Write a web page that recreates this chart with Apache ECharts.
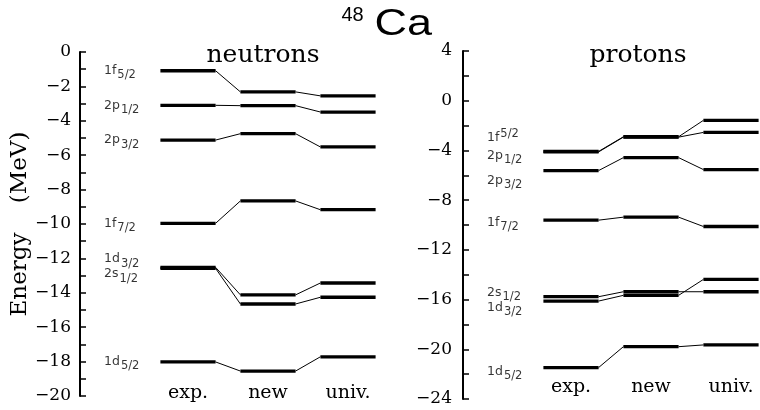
<!DOCTYPE html>
<html><head><meta charset="utf-8">
<script src="https://cdn.jsdelivr.net/npm/echarts@6/dist/echarts.min.js"></script>
<style>html,body{margin:0;padding:0;background:#fff}#c{width:760px;height:410px}</style>
</head><body><div id="c"></div>
<script>
// ---- data (MeV) ----
const methods = ['exp.', 'new', 'univ.'];

const neutronLevels  = ['1f_5/2', '2p_1/2', '2p_3/2', '1f_7/2', '1d_3/2', '2s_1/2', '1d_5/2'];
const neutronExp     = [-1.09, -3.10, -5.12, -9.96, -12.52, -12.58, -18.02];
const neutronNew     = [-2.32, -3.12, -4.75, -8.66, -14.12, -14.65, -18.55];
const neutronUniv    = [-2.55, -3.49, -5.52, -9.17, -13.43, -14.26, -17.72];
const neutronLabelAt = [-1.09, -3.10, -5.12, -9.96, -12.04, -12.91, -18.02];

const protonLevels   = ['1f^5/2', '2p_1/2', '2p_3/2', '1f_7/2', '2s_1/2', '1d_3/2', '1d_5/2'];
const protonExp      = [-4.08, -4.12, -5.62, -9.61, -15.77, -16.12, -21.47];
const protonNew      = [-2.90, -2.93, -4.58, -9.37, -15.37, -15.66, -19.79];
const protonUniv     = [-1.58, -2.55, -5.54, -10.12, -15.37, -14.38, -19.65];
const protonLabelAt  = [-2.99, -4.41, -6.42, -9.83, -15.44, -16.64, -21.80];

const neutronTicks = {min: -20, max: 0, step: 1, labelEvery: 2};
const protonTicks  = {min: -24, max: 4, step: 2, labelEvery: 4};

// ---- style constants ----
const XMIN = -0.35, XMAX = 3.65, HW = 0.345, LABEL_X = -0.05;
const SERIF = 'DejaVu Serif', SANS = 'Liberation Sans', LSANS = 'DejaVu Sans';

function minus(v) { return v < 0 ? '\u2212' + Math.abs(v) : String(v); }
function levelLabel(s) {
  const sup = s.indexOf('^') >= 0;
  const parts = s.split(/[_^]/);
  return '{m|' + parts[0] + '}{' + (sup ? 'p' : 's') + '|' + parts[1] + '}';
}

function levelSeries(g, exp, nw, univ) {
  return {
    type: 'custom', xAxisIndex: g, yAxisIndex: g, silent: true, clip: false,
    data: exp.map((e, i) => [e, nw[i], univ[i]]),
    renderItem: function (params, api) {
      const v = [api.value(0), api.value(1), api.value(2)];
      const ch = [];
      for (let k = 0; k < 3; k++) {
        const a = api.coord([k + 1 - HW, v[k]]);
        const b = api.coord([k + 1 + HW, v[k]]);
        ch.push({type: 'line', shape: {x1: a[0], y1: a[1], x2: b[0], y2: b[1]},
                 style: {stroke: '#000', lineWidth: 3.3}});
        if (k < 2) {
          const c = api.coord([k + 2 - HW, v[k + 1]]);
          ch.push({type: 'line', shape: {x1: b[0], y1: b[1], x2: c[0], y2: c[1]},
                   style: {stroke: '#000', lineWidth: 1}});
        }
      }
      return {type: 'group', children: ch};
    }
  };
}

function labelSeries(g, names, at) {
  return {
    type: 'scatter', xAxisIndex: g, yAxisIndex: g, silent: true, symbolSize: 0,
    data: names.map((n, i) => ({name: n, value: [LABEL_X, at[i]]})),
    label: {
      show: true, position: 'right', distance: 0,
      formatter: p => levelLabel(p.name),
      rich: {
        m: {fontFamily: LSANS, fontSize: 12.5, color: '#000'},
        s: {fontFamily: LSANS, fontSize: 11.5, color: '#000', padding: [9, 0, 0, 1]},
        p: {fontFamily: LSANS, fontSize: 11.5, color: '#000', padding: [0, 0, 7, 1]}
      }
    }
  };
}

function xAxisCfg(g, margin) {
  return {
    gridIndex: g, type: 'value', min: XMIN, max: XMAX,
    axisLine: {show: false, onZero: false}, axisTick: {show: false}, splitLine: {show: false},
    axisLabel: {customValues: [1, 2, 3], formatter: v => methods[Math.round(v) - 1] || '',
      fontFamily: SERIF, fontSize: 19, color: '#000', margin: margin, verticalAlign: 'middle'}
  };
}
function yAxisCfg(g, t, margin) {
  return {
    gridIndex: g, type: 'value', min: t.min, max: t.max, interval: t.step,
    axisLine: {show: true, onZero: false, lineStyle: {color: '#000', width: 2}},
    axisTick: {show: true, inside: true, length: 6, lineStyle: {color: '#000', width: 1.5}},
    splitLine: {show: false},
    axisLabel: {margin: margin, color: '#000', fontFamily: SERIF, fontSize: 17,
      formatter: v => (Math.round(v) % t.labelEvery === 0 ? minus(v) : '')}
  };
}

const yLeft = yAxisCfg(0, neutronTicks, 9);
yLeft.name = 'Energy    (MeV)';
yLeft.nameLocation = 'middle';
yLeft.nameRotate = 90;
yLeft.nameGap = 48;
yLeft.nameTextStyle = {fontFamily: SERIF, fontSize: 23, color: '#000'};

const chart = echarts.init(document.getElementById('c'), null, {renderer: 'canvas'});
chart.setOption({
  animation: false,
  backgroundColor: '#fff',
  grid: [
    {left: 80, top: 52, width: 320, height: 344, outerBoundsMode: 'none'},
    {left: 463, top: 51, width: 320, height: 348, outerBoundsMode: 'none'}
  ],
  xAxis: [xAxisCfg(0, -3), xAxisCfg(1, -12)],
  yAxis: [yLeft, yAxisCfg(1, protonTicks, 11)],
  graphic: [
    {type: 'text', x: 263, y: 55, silent: true,
     style: {text: 'neutrons', fontFamily: SERIF, fontSize: 25, fill: '#000', align: 'center', verticalAlign: 'middle'}},
    {type: 'text', x: 638, y: 55, silent: true,
     style: {text: 'protons', fontFamily: SERIF, fontSize: 25, fill: '#000', align: 'center', verticalAlign: 'middle'}},
    {type: 'text', x: 341.5, y: 15.5, silent: true,
     style: {text: '48', fontFamily: SANS, fontSize: 20, fill: '#000', align: 'left', verticalAlign: 'middle'}},
    {type: 'text', x: 374.5, y: 25.5, scaleX: 1.25, silent: true,
     style: {text: 'Ca', fontFamily: SANS, fontSize: 36, fill: '#000', align: 'left', verticalAlign: 'middle'}}
  ],
  series: [
    levelSeries(0, neutronExp, neutronNew, neutronUniv),
    levelSeries(1, protonExp, protonNew, protonUniv),
    labelSeries(0, neutronLevels, neutronLabelAt),
    labelSeries(1, protonLevels, protonLabelAt)
  ]
});
</script>
</body></html>
